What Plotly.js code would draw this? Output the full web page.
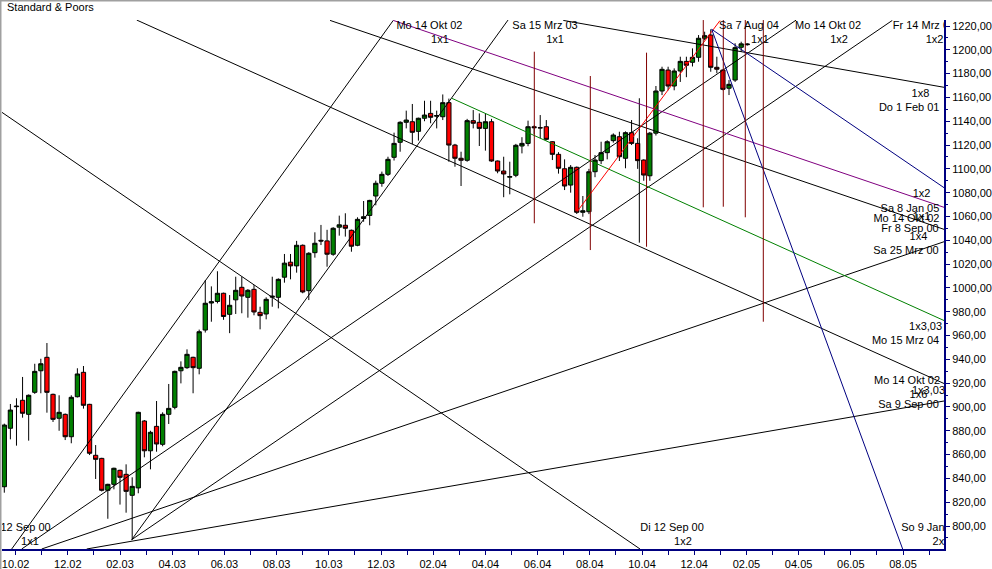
<!DOCTYPE html>
<html>
<head>
<meta charset="utf-8">
<script src="https://cdn.plot.ly/plotly-3.0.1.min.js"></script>
<style>
  html, body { margin: 0; padding: 0; background: #ffffff; }
  #chart { width: 992px; height: 569px; }
</style>
</head>
<body>
<div id="chart"></div>
<script>
// ---------- weekly S&P 500 bars (Friday of each week) ----------
const weekDates = [
"2002-10-18","2002-10-25","2002-11-01","2002-11-08","2002-11-15","2002-11-22","2002-11-29","2002-12-06","2002-12-13","2002-12-20","2002-12-27",
"2003-01-03","2003-01-10","2003-01-17","2003-01-24","2003-01-31","2003-02-07","2003-02-14","2003-02-21","2003-02-28","2003-03-07","2003-03-14","2003-03-21","2003-03-28","2003-04-04","2003-04-11","2003-04-18","2003-04-25","2003-05-02","2003-05-09","2003-05-16","2003-05-23","2003-05-30","2003-06-06","2003-06-13","2003-06-20","2003-06-27","2003-07-04","2003-07-11","2003-07-18","2003-07-25","2003-08-01","2003-08-08","2003-08-15","2003-08-22","2003-08-29","2003-09-05","2003-09-12","2003-09-19","2003-09-26","2003-10-03","2003-10-10","2003-10-17","2003-10-24","2003-10-31","2003-11-07","2003-11-14","2003-11-21","2003-11-28","2003-12-05","2003-12-12","2003-12-19","2003-12-26",
"2004-01-02","2004-01-09","2004-01-16","2004-01-23","2004-01-30","2004-02-06","2004-02-13","2004-02-20","2004-02-27","2004-03-05","2004-03-12","2004-03-19","2004-03-26","2004-04-02","2004-04-09","2004-04-16","2004-04-23","2004-04-30","2004-05-07","2004-05-14","2004-05-21","2004-05-28","2004-06-04","2004-06-11","2004-06-18","2004-06-25","2004-07-02","2004-07-09","2004-07-16","2004-07-23","2004-07-30","2004-08-06","2004-08-13","2004-08-20","2004-08-27","2004-09-03","2004-09-10","2004-09-17","2004-09-24","2004-10-01","2004-10-08","2004-10-15","2004-10-22","2004-10-29","2004-11-05","2004-11-12","2004-11-19","2004-11-26","2004-12-03","2004-12-10","2004-12-17","2004-12-24","2004-12-31",
"2005-01-07","2005-01-14","2005-01-21","2005-01-28","2005-02-04","2005-02-11","2005-02-18"];

const openPrices = [
833.0,882.1,900.8,905.6,893.8,912.3,930.4,941.7,910.6,890.5,
893.8,875.0,908.6,929.1,902.2,859.4,856.8,830.0,835.0,846.8,
843.4,825.8,832.0,888.2,863.2,883.7,868.6,893.8,899.7,930.4,
933.0,941.7,932.5,964.6,987.3,988.6,995.5,977.8,990.0,1000.5,
992.1,998.8,979.5,978.1,992.2,992.1,1009.0,1021.6,1018.5,1035.8,
997.7,1029.6,1040.0,1039.5,1028.3,1051.0,1052.6,1048.4,1035.8,1058.3,
1060.9,1077.2,1087.9,1095.4,1109.7,1122.3,1139.1,1139.6,1131.5,1142.5,
1146.6,1144.2,1143.8,1155.6,1120.0,1108.9,1107.2,1140.5,1139.1,1134.0,
1139.6,1106.6,1098.2,1093.0,1094.6,1119.2,1121.4,1135.4,1134.6,1135.4,
1122.8,1112.2,1100.1,1086.4,1101.3,1063.5,1064.0,1097.6,1106.9,1113.6,
1123.7,1127.0,1108.9,1130.4,1121.4,1107.4,1094.2,1130.0,1165.4,1183.0,
1169.6,1182.2,1190.3,1189.5,1193.7,1209.7,1212.4,1185.3,1183.0,1167.7,
1174.6,1202.1,1204.3];

const highPrices = [
886.0,902.5,907.3,925.2,910.5,936.3,940.5,953.7,911.2,909.8,
894.5,909.8,932.5,934.4,902.6,868.0,857.3,835.5,849.0,847.3,
851.8,840.9,896.0,889.0,880.0,905.0,895.5,919.3,930.5,938.3,
948.4,942.2,965.0,1006.6,1001.3,1014.0,996.0,994.0,1009.4,1009.4,
999.0,1002.4,984.2,992.1,1009.4,1008.0,1028.5,1028.5,1039.5,1036.5,
1030.0,1046.7,1052.9,1048.8,1051.0,1060.7,1062.7,1049.0,1059.3,1073.0,
1074.0,1090.1,1097.7,1110.2,1130.4,1140.0,1148.9,1154.5,1143.0,1157.2,
1157.2,1148.9,1162.5,1159.0,1121.0,1114.4,1142.0,1149.4,1146.6,1146.1,
1142.0,1107.0,1110.2,1106.0,1121.0,1126.6,1140.5,1136.5,1145.2,1141.0,
1123.2,1114.0,1108.0,1103.2,1102.0,1077.2,1100.0,1111.6,1122.8,1124.0,
1129.8,1131.2,1131.5,1141.0,1125.7,1108.0,1131.0,1169.6,1185.8,1185.8,
1184.4,1194.2,1194.2,1201.2,1212.4,1215.2,1217.2,1194.2,1183.5,1174.6,
1205.5,1206.8,1205.5];

const lowPrices = [
828.0,872.8,867.5,891.0,871.7,911.0,911.5,895.2,887.4,880.0,
872.2,869.5,908.0,898.6,859.6,839.5,829.0,806.1,830.8,818.0,
811.2,788.5,827.5,857.7,847.6,862.4,867.0,885.7,898.0,919.8,
932.0,911.5,927.4,962.5,971.6,987.0,973.2,962.0,978.1,978.7,
975.0,977.0,965.2,973.6,984.2,982.8,1004.4,1007.2,1012.8,995.5,
989.8,1025.4,1036.0,1017.8,1027.0,1043.9,1043.1,1030.4,1035.0,1055.6,
1052.6,1069.4,1085.0,1094.0,1107.0,1114.4,1134.0,1120.9,1123.7,1140.0,
1138.3,1134.0,1141.0,1106.0,1101.8,1085.6,1106.0,1134.0,1119.2,1115.3,
1106.0,1096.3,1076.2,1078.6,1093.0,1113.0,1119.0,1129.0,1125.7,1124.0,
1107.4,1096.0,1082.2,1080.0,1062.1,1059.8,1062.0,1093.0,1104.0,1108.0,
1122.0,1106.6,1100.5,1120.0,1100.0,1090.0,1090.0,1128.0,1162.0,1166.0,
1166.0,1173.0,1177.0,1186.0,1190.0,1208.0,1181.6,1180.3,1166.0,1162.0,
1173.0,1198.4,1203.5];

const closePrices = [
884.8,897.4,900.3,894.7,909.8,929.9,936.3,912.3,889.6,895.5,
875.0,908.1,927.7,901.4,861.1,856.0,830.0,835.0,848.5,840.9,
829.1,833.3,895.5,863.2,878.7,868.9,893.8,898.8,929.9,933.3,
944.2,933.0,963.2,987.1,988.4,995.5,976.0,985.4,998.0,993.2,
998.0,979.8,976.7,990.4,993.0,1007.2,1020.8,1018.5,1035.8,996.6,
1029.1,1037.5,1039.4,1028.3,1050.1,1053.0,1050.1,1035.0,1057.6,1059.8,
1073.5,1087.9,1095.4,1108.0,1121.4,1139.1,1141.0,1130.7,1142.5,1145.2,
1143.3,1144.8,1155.6,1120.0,1108.9,1107.2,1140.5,1138.3,1134.0,1139.6,
1106.6,1098.2,1095.7,1093.5,1119.8,1121.4,1135.4,1134.6,1134.4,1124.8,
1112.2,1100.5,1085.6,1101.3,1063.5,1064.8,1097.6,1107.4,1113.6,1122.8,
1128.4,1110.2,1130.4,1121.4,1106.9,1094.8,1130.0,1165.4,1183.6,1169.6,
1182.2,1190.3,1187.0,1193.7,1209.7,1211.9,1185.3,1183.7,1166.8,1171.0,
1201.8,1205.0,1204.8];

// ---------- Gann lines: [start date, start price, end date, end price] ----------
const gannBlack = [
  ["2003-03-19 05:00",1225.0,"2005-10-02 02:40",919.7],
  ["2002-10-13 01:00",1148.6,"2004-10-17 17:00",780.7],
  ["2002-10-26 12:00",780.7,"2004-01-08 02:00",1224.7],
  ["2003-03-13 10:00",788.5,"2004-05-19 00:00",1225.0],
  ["2002-11-07 00:00",780.7,"2005-04-15 05:00",1225.0],
  ["2003-03-13 10:00",788.5,"2005-08-03 17:00",1224.7],
  ["2002-11-30 00:00",780.7,"2005-10-02 02:40",1038.8],
  ["2003-01-20 17:00",780.7,"2005-10-02 02:40",905.0],
  ["2004-07-21 12:00",1224.7,"2005-10-02 02:40",1168.5],
  ["2003-10-27 10:00",1224.7,"2005-10-02 02:40",1049.2],
  ["2004-10-16 22:00",1038.0,"2004-10-16 22:00",1159.3]
];
const gannPurple = [["2004-01-08 02:00",1224.7,"2005-10-02 02:40",1067.7]];
const gannGreen  = [["2004-03-15 07:00",1159.3,"2005-10-02 02:40",972.6]];
const gannRed    = [["2004-08-06 07:00",1064.0,"2005-01-17 14:00",1224.5]];
const gannBlue   = [
  ["2005-01-08 02:00",1217.2,"2005-10-02 02:40",1084.2],
  ["2005-01-08 02:00",1217.2,"2005-08-15 14:00",780.7]
];

// ---------- vertical time-cycle lines ----------
const cycleDates = ["2004-06-18 05:00","2004-08-21 14:00","2004-10-25 05:00","2004-12-29 10:00","2005-01-21 10:00","2005-02-15 17:00","2005-03-08 10:00"];
const cycleLow   = [1054.3,1031.8,1034.6,1067.7,1068.2,1059.3,971.6];
const cycleHigh  = [1198.4,1178.0,1197.6,1225.0,1225.0,1225.0,1225.0];

// ---------- line labels ----------
const labelText = ["Mo 14 Okt 02","1x1","Sa 15 Mrz 03","1x1","Sa 7 Aug 04","1x1","Mo 14 Okt 02","1x2","Fr 14 Mrz 03","1x2",
  "1x8","Do 1 Feb 01","1x2","Sa 8 Jan 05","Mo 14 Okt 02","1x1","Fr 8 Sep 00","1x4","Sa 25 Mrz 00",
  "1x3,03","Mo 15 Mrz 04","Mo 14 Okt 02","1x3,03","1x6","Sa 9 Sep 00",
  "Di 12 Sep 00","1x2","So 9 Jan 05","2x1","Di 12 Sep 00","1x1"];
const labelDate = ["2004-02-18 17:00","2004-03-01 19:00","2004-06-30 12:00","2004-07-12 00:00","2005-02-20 00:00","2005-03-04 14:00","2005-05-21 19:00","2005-06-03 10:00","2005-09-09 02:00","2005-09-21 05:00",
  "2005-09-05 02:00","2005-08-23 02:00","2005-09-06 07:00","2005-08-24 00:00","2005-08-20 00:00","2005-09-06 07:00","2005-08-24 00:00","2005-09-02 19:00","2005-08-19 10:00",
  "2005-09-10 22:00","2005-08-18 22:00","2005-08-20 14:00","2005-09-14 07:00","2005-09-02 19:00","2005-08-22 07:00",
  "2004-11-23 12:00","2004-12-06 02:00","2005-09-16 14:00","2005-09-29 05:00","2002-11-03 17:00","2002-11-16 12:00"];
const labelPrice = [1220.0,1208.2,1220.0,1208.2,1220.0,1208.2,1220.0,1208.2,1220.0,1208.2,
  1162.9,1151.1,1078.9,1066.3,1057.5,1059.6,1049.5,1042.8,1031.0,
  967.2,955.4,921.8,913.4,910.0,901.6,
  798.3,786.6,798.3,786.6,798.3,786.6];

// ---------- axis ticks ----------
const xTickDates = ["2002-10-31","2002-11-30","2002-12-30","2003-01-29","2003-02-28","2003-03-30","2003-04-29","2003-05-29","2003-06-28","2003-07-28","2003-08-27","2003-09-26","2003-10-26","2003-11-25","2003-12-25","2004-01-24","2004-02-23","2004-03-24","2004-04-23","2004-05-23","2004-06-22","2004-07-22","2004-08-21","2004-09-20","2004-10-20","2004-11-19","2004-12-19","2005-01-18","2005-02-17","2005-03-19","2005-04-18","2005-05-18","2005-06-17","2005-07-17","2005-08-16","2005-09-15"];
const xTickLabels = ["10.02","","12.02","","02.03","","04.03","","06.03","","08.03","","10.03","","12.03","","02.04","","04.04","","06.04","","08.04","","10.04","","12.04","","02.05","","04.05","","06.05","","08.05",""];

// ---------- build ----------
const FONT = "Liberation Sans, Arial, Helvetica, sans-serif";
function segTrace(segs, color) {
  const x = [], y = [];
  segs.forEach(s => { x.push(s[0], s[2], null); y.push(s[1], s[3], null); });
  return {type:"scatter", mode:"lines", x:x, y:y, line:{color:color, width:1},
          hoverinfo:"skip", showlegend:false, connectgaps:false};
}
const cycleSegs = cycleDates.map((d,i) => [d, cycleLow[i], d, cycleHigh[i]]);

const traces = [
  {type:"candlestick", x:weekDates, open:openPrices, high:highPrices, low:lowPrices, close:closePrices,
   increasing:{line:{color:"#000000", width:1}, fillcolor:"#008000"},
   decreasing:{line:{color:"#000000", width:1}, fillcolor:"#ff0000"},
   whiskerwidth:0, hoverinfo:"skip", showlegend:false},
  segTrace(gannBlack, "#000000"),
  segTrace(gannPurple, "#800080"),
  segTrace(gannGreen, "#008000"),
  segTrace(gannRed, "#ff0000"),
  segTrace(gannBlue, "#000080"),
  segTrace(cycleSegs, "#800000"),
  {type:"scatter", mode:"text", x:labelDate, y:labelPrice, text:labelText,
   textposition:"middle center", textfont:{family:FONT, size:11, color:"#000000"},
   cliponaxis:true, hoverinfo:"skip", showlegend:false}
];

const layout = {
  width:992, height:569,
  margin:{l:2, r:48, t:20, b:20, pad:0},
  paper_bgcolor:"#ffffff", plot_bgcolor:"#ffffff",
  showlegend:false, hovermode:false,
  separators:",.",
  boxgap:0.3, boxgroupgap:0,
  font:{family:FONT, size:11, color:"#000000"},
  xaxis:{
    type:"date", range:["2002-10-15 08:33","2005-10-02 02:40"],
    tickmode:"array", tickvals:xTickDates, ticktext:xTickLabels,
    ticks:"outside", ticklen:4, tickcolor:"#000080", tickwidth:1,
    showline:true, linecolor:"#000080", linewidth:2,
    showgrid:false, zeroline:false, fixedrange:true,
    tickfont:{family:FONT, size:11, color:"#000000"},
    rangeslider:{visible:false}
  },
  yaxis:{
    side:"right", range:[780.69, 1225.04],
    tickmode:"linear", tick0:0, dtick:20, tickformat:".2f",
    ticks:"outside", ticklen:4, tickcolor:"#000080", tickwidth:1,
    minor:{dtick:10, ticks:"outside", ticklen:2, tickcolor:"#000080"},
    showline:true, linecolor:"#000080", linewidth:2,
    showgrid:false, zeroline:false, fixedrange:true,
    tickfont:{family:FONT, size:11, color:"#000000"}
  },
  annotations:[{
    text:"Standard & Poors", xref:"paper", yref:"paper",
    x:0.0032, y:1.0246, xanchor:"left", yanchor:"middle", showarrow:false,
    font:{family:FONT, size:11, color:"#000000"}
  }],
  shapes:[
    {type:"line", xref:"paper", yref:"paper", x0:-0.0016, x1:-0.0016, y0:1.04, y1:-0.04, line:{color:"#a0a0a0", width:2}},
    {type:"line", xref:"paper", yref:"paper", x0:-0.003, x1:1.06, y0:1.0369, y1:1.0369, line:{color:"#a0a0a0", width:2}}
  ]
};

Plotly.newPlot("chart", traces, layout, {staticPlot:true, displayModeBar:false});
</script>
</body>
</html>
